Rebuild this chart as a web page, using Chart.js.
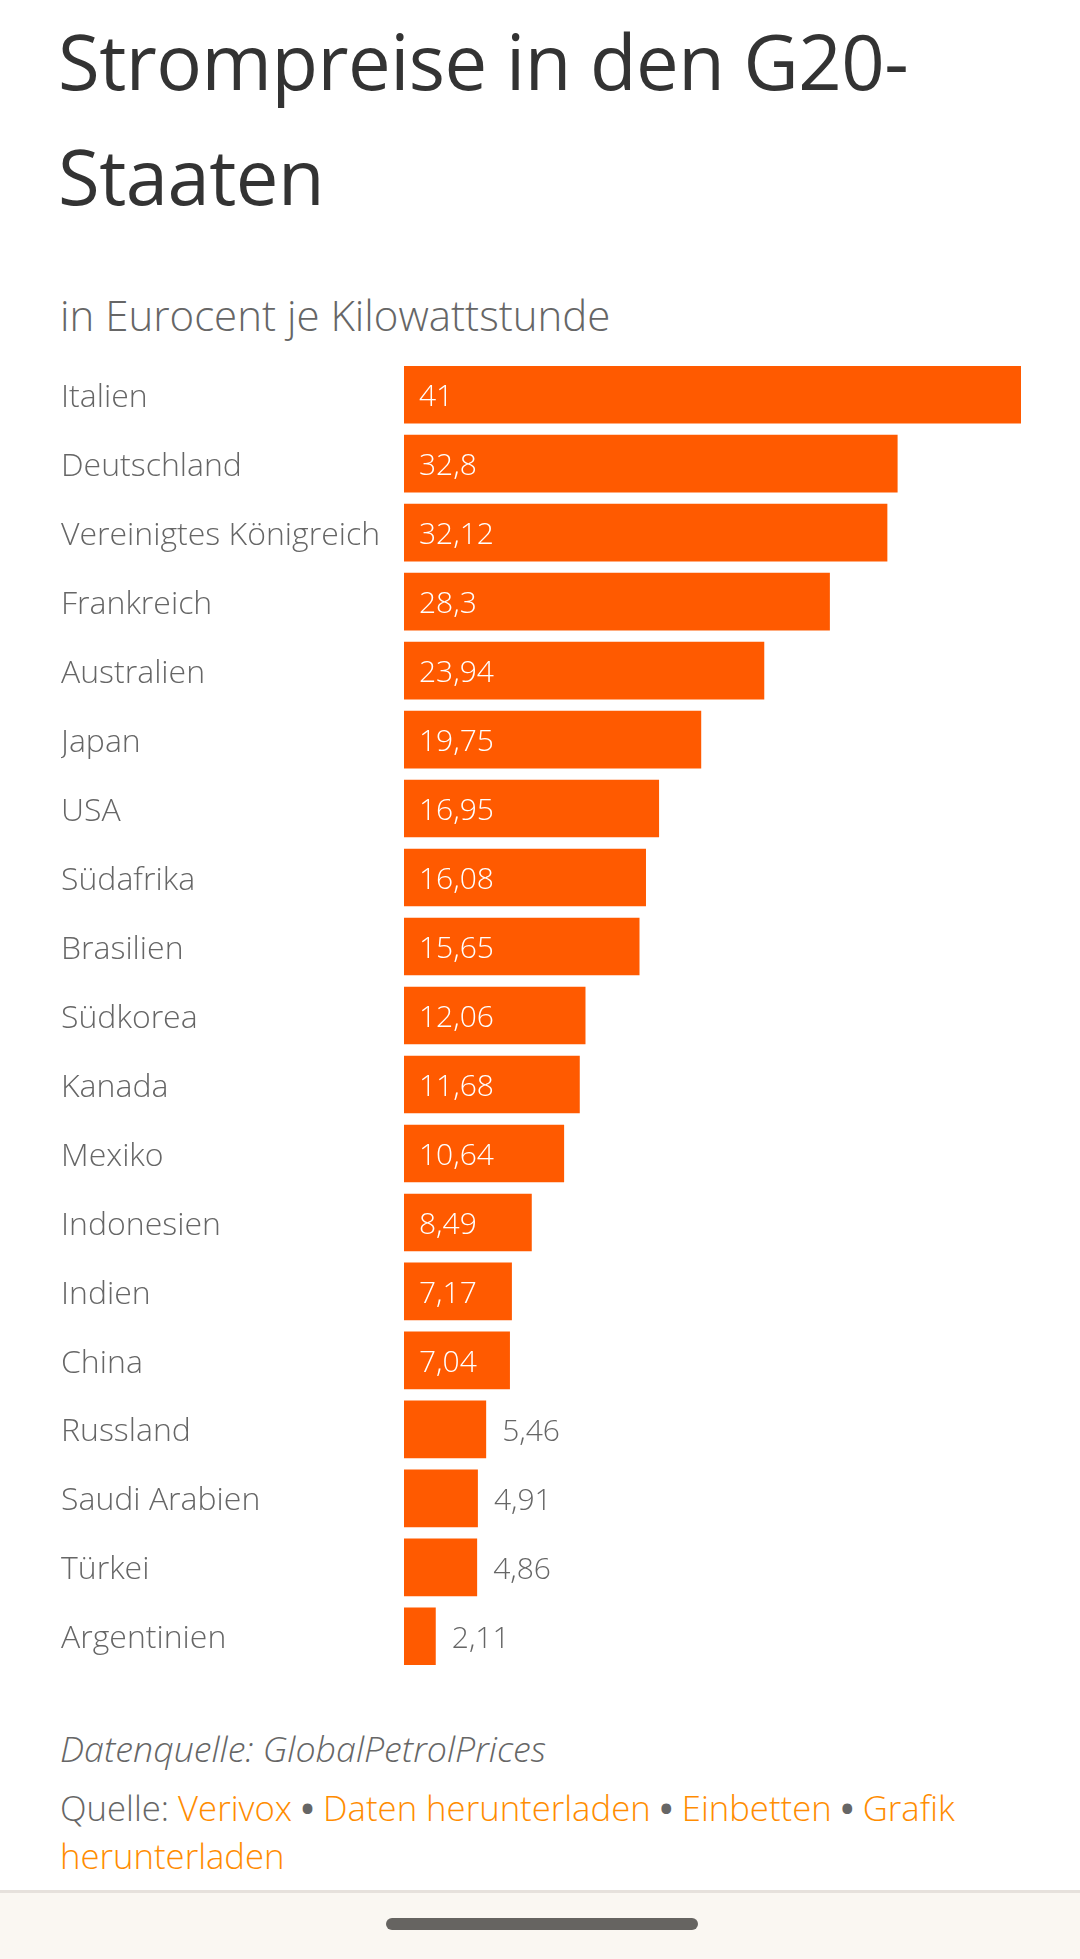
<!DOCTYPE html>
<html lang="de">
<head>
<meta charset="utf-8">
<title>Strompreise in den G20-Staaten</title>
<script src="https://cdn.jsdelivr.net/npm/chart.js@4"></script>
<style>
  html, body { margin: 0; padding: 0; background: #fff; }
  body { width: 1080px; height: 1959px; position: relative; overflow: hidden; font-family: "Open Sans", sans-serif; }
  h1 { position: absolute; left: 58px; top: 0; margin: 0; font-weight: 400; font-size: 76px; line-height: 115px; color: #333; letter-spacing: -0.5px; padding-top: 3px; }
  .sub { position: absolute; left: 60px; top: 286px; font-weight: 300; font-size: 42px; color: #666; }
  #wrap { position: absolute; left: 0; top: 341px; width: 1021px; height: 1349px; }
  .note { position: absolute; left: 60px; top: 1724px; font-style: italic; font-weight: 300; font-size: 35.8px; color: #666; }
  .src { position: absolute; left: 60px; top: 1784px; width: 975px; font-weight: 300; font-size: 34.7px; line-height: 48px; color: #666; }
  .src a { color: #ff8c00; text-decoration: none; }
  .src b { font-weight: 700; color: #666; }
  .bar { position: absolute; left: 0; top: 1890px; width: 1080px; height: 69px; background: #faf7f2; border-top: 3px solid #e6e1dc; }
  .pill { position: absolute; left: 386px; top: 1918px; width: 312px; height: 12px; border-radius: 6px; background: #666461; }
</style>
</head>
<body>
<h1>Strompreise in den G20-<br>Staaten</h1>
<div class="sub">in Eurocent je Kilowattstunde</div>
<div id="wrap"><canvas id="chart"></canvas></div>
<div class="note">Datenquelle: GlobalPetrolPrices</div>
<div class="src">Quelle: <a>Verivox</a> <b>•</b> <a>Daten herunterladen</a> <b>•</b> <a>Einbetten</a> <b>•</b> <a>Grafik herunterladen</a></div>
<div class="bar"></div>
<div class="pill"></div>
<script>
// Strompreise, Eurocent je kWh
const countries = [
  'Italien', 'Deutschland', 'Vereinigtes Königreich', 'Frankreich', 'Australien',
  'Japan', 'USA', 'Südafrika', 'Brasilien', 'Südkorea', 'Kanada', 'Mexiko',
  'Indonesien', 'Indien', 'China', 'Russland', 'Saudi Arabien', 'Türkei', 'Argentinien'
];
const prices = [
  41, 32.8, 32.12, 28.3, 23.94,
  19.75, 16.95, 16.08, 15.65, 12.06, 11.68, 10.64,
  8.49, 7.17, 7.04, 5.46, 4.91, 4.86, 2.11
];

const fmt = v => String(v).replace('.', ',');

// value labels: white inside the bar, grey behind it when it doesn't fit
const valueLabels = {
  id: 'valueLabels',
  afterDatasetsDraw(chart) {
    const ctx = chart.ctx;
    const meta = chart.getDatasetMeta(0);
    ctx.save();
    ctx.font = '300 30px "Open Sans"';
    ctx.textBaseline = 'middle';
    ctx.textAlign = 'left';
    meta.data.forEach((bar, i) => {
      const txt = fmt(prices[i]);
      const tw = ctx.measureText(txt).width;
      const w = bar.x - bar.base;
      if (tw + 30 <= w) {
        ctx.fillStyle = '#fff';
        ctx.fillText(txt, bar.base + 15, bar.y + 3);
      } else {
        ctx.fillStyle = '#666';
        ctx.fillText(txt, bar.x + 16, bar.y + 3);
      }
    });
    ctx.restore();
  }
};

new Chart(document.getElementById('chart'), {
  type: 'bar',
  data: {
    labels: countries,
    datasets: [{
      data: prices,
      backgroundColor: '#ff5a00',
      borderWidth: 0,
      categoryPercentage: 1,
      barPercentage: 0.835
    }]
  },
  options: {
    indexAxis: 'y',
    responsive: true,
    maintainAspectRatio: false,
    animation: false,
    layout: { padding: { left: 61, right: 0, top: 0, bottom: 0 } },
    plugins: { legend: { display: false }, tooltip: { enabled: false } },
    scales: {
      x: { display: false, min: 0, max: Math.max(...prices) },
      y: {
        grid: { display: false, drawTicks: false },
        border: { display: false },
        ticks: {
          crossAlign: 'far',
          padding: 0,
          labelOffset: 3,
          color: '#666',
          font: { family: '"Open Sans"', size: 32, weight: 300 }
        },
        afterFit(scale) { scale.width = 343; }
      }
    }
  },
  plugins: [valueLabels]
});
</script>
</body>
</html>
